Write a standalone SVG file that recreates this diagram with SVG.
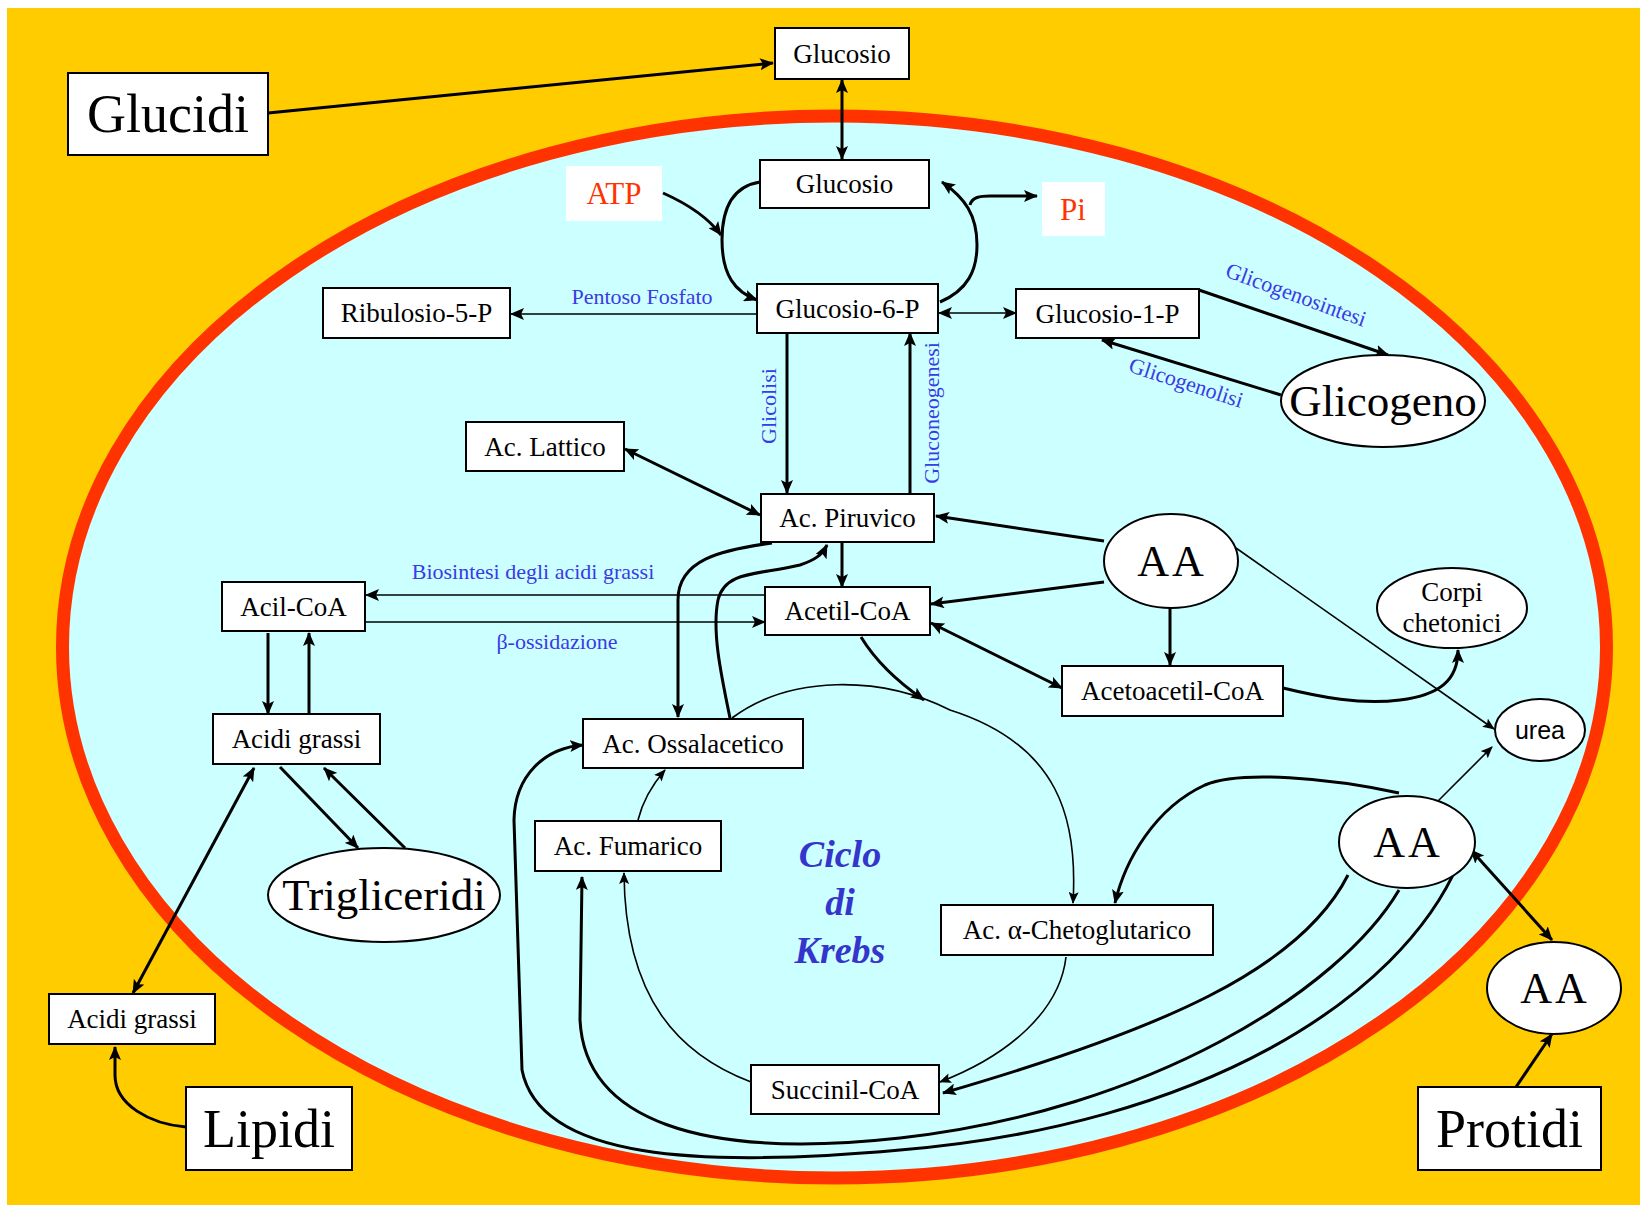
<svg xmlns="http://www.w3.org/2000/svg" width="1640" height="1205" viewBox="0 0 1640 1205">
  <style>
    .box { fill: #ffffff; stroke: #000000; stroke-width: 2; }
    .oval { fill: #ffffff; stroke: #000000; stroke-width: 2; }
    .t { font-family: "Liberation Serif", "Times New Roman", serif; font-size: 27px; fill: #000000; text-anchor: middle; }
    .big { font-size: 54px; }
    .mid { font-size: 45px; }
    .aa { font-size: 44px; letter-spacing: 3px; }
    .red { fill: #ff3300; font-size: 31px; }
    .lbl { font-family: "Liberation Serif", "Times New Roman", serif; font-size: 22px; fill: #3a3ae6; text-anchor: middle; }
    .krebs { font-family: "Liberation Serif", "Times New Roman", serif; font-size: 38px; font-weight: bold; font-style: italic; fill: #3535cc; text-anchor: middle; }
    .sans { font-family: "Liberation Sans", Arial, sans-serif; font-size: 25px; }
    .thick { fill: none; stroke: #000000; stroke-width: 3; }
    .thin { fill: none; stroke: #000000; stroke-width: 1.6; }
    .one { marker-end: url(#ah); }
    .two { marker-start: url(#ah); marker-end: url(#ah); }
    .ones { marker-end: url(#ahs); }
    .twos { marker-start: url(#ahs); marker-end: url(#ahs); }
  </style>
  <defs>
    <marker id="ah" viewBox="0 0 14 12" refX="13" refY="6" markerWidth="14" markerHeight="12" markerUnits="userSpaceOnUse" orient="auto-start-reverse">
      <path d="M0,0 L14,6 L0,12 L3,6 z" fill="#000000"/>
    </marker>
    <marker id="ahs" viewBox="0 0 12 10" refX="11" refY="5" markerWidth="12" markerHeight="10" markerUnits="userSpaceOnUse" orient="auto-start-reverse">
      <path d="M0,0 L12,5 L0,10 L2.5,5 z" fill="#000000"/>
    </marker>
  </defs>

  <!-- background and cell -->
  <rect x="0" y="0" width="1640" height="1205" fill="#ffffff"/>
  <rect x="7" y="8" width="1633" height="1197" fill="#ffcc00"/>
  <ellipse cx="834.5" cy="647" rx="772" ry="531" fill="#ccffff" stroke="#ff3300" stroke-width="13"/>

  <!-- connectors -->
  <g id="connectors">
    <path class="thick one" d="M268,113 L773,63"/>
    <path class="thick two" d="M842,80 L842,159"/>
    <path class="thick one" d="M663,193 C690,205 710,220 721,235"/>
    <path class="thick one" d="M760,182 C735,186 722,205 722,240 C722,275 735,292 757,300"/>
    <path class="thick one" d="M940,302 C968,290 977,270 977,245 C977,215 965,198 942,182"/>
    <path class="thick one" d="M970,205 C972,197 980,196 990,196 L1037,196"/>
    <path class="thin one" d="M757,314 L511,314"/>
    <path class="thin two" d="M939,313 L1016,313"/>
    <path class="thick one" d="M1199,290 L1388,355"/>
    <path class="thick one" d="M1281,395 L1102,340"/>
    <path class="thick one" d="M787,333 L787,493"/>
    <path class="thick one" d="M910,493 L910,333"/>
    <path class="thick two" d="M625,449 L760,515"/>
    <path class="thick one" d="M1104,541 L936,516"/>
    <path class="thick one" d="M1104,582 L931,604"/>
    <path class="thick one" d="M1170,608 L1170,665"/>
    <path class="thin ones" d="M1236,548 L1494,729"/>
    <path class="thin ones" d="M1434,805 L1492,747"/>
    <path class="thick two" d="M931,623 L1062,688"/>
    <path class="thick one" d="M1283,688 C1320,697 1360,705 1400,700 C1440,695 1458,680 1458,650"/>
    <path class="thick one" d="M842,542 L842,587"/>
    <path class="thin one" d="M765,595 L366,595"/>
    <path class="thin one" d="M365,622 L765,622"/>
    <path class="thick one" d="M268,633 L268,714"/>
    <path class="thick one" d="M309,714 L309,633"/>
    <path class="thick one" d="M280,767 L358,848"/>
    <path class="thick one" d="M405,848 L324,768"/>
    <path class="thick two" d="M254,768 L133,993"/>
    <path class="thick one" d="M186,1127 C150,1124 115,1105 115,1075 L115,1047"/>
    <path class="thick one" d="M772,543 C720,550 678,560 678,600 L678,717"/>
    <path class="thick one" d="M730,718 C720,670 712,630 718,600 C725,570 760,575 800,565 C815,560 822,555 827,545"/>
    <path class="thick one" d="M861,637 C875,660 895,680 924,700"/>
    <!-- Krebs cycle ring -->
    <path class="thin ones" d="M732,718 C790,675 880,675 950,710 C1060,745 1078,820 1073,903"/>
    <path class="thin ones" d="M1066,957 C1060,1010 1010,1055 940,1082"/>
    <path class="thin ones" d="M751,1082 C680,1055 625,1000 624,873"/>
    <path class="thin ones" d="M638,820 C643,800 652,785 665,770"/>
    <!-- amino acid routes -->
    <path class="thick one" d="M1399,793 C1330,778 1240,770 1205,785 C1155,808 1125,860 1115,903"/>
    <path class="thick one" d="M1348,875 C1300,970 1160,1030 943,1093"/>
    <path class="thick one" d="M1399,890 C1340,990 1150,1110 900,1138 C700,1160 585,1120 580,1020 L582,877"/>
    <path class="thick one" d="M1459,862 C1400,1000 1200,1125 900,1150 C700,1168 540,1160 522,1070 L514,820 C515,775 545,748 583,745"/>
    <path class="thick two" d="M1471,850 L1552,940"/>
    <path class="thick one" d="M1516,1087 L1552,1034"/>
  </g>

  <!-- pathway labels -->
  <g id="labels">
    <text class="lbl" x="642" y="304">Pentoso Fosfato</text>
    <text class="lbl" transform="translate(769,406) rotate(-90)" x="0" y="7">Glicolisi</text>
    <text class="lbl" transform="translate(932,413) rotate(-90)" x="0" y="7">Gluconeogenesi</text>
    <text class="lbl" transform="translate(1296,295) rotate(20)" x="0" y="7">Glicogenosintesi</text>
    <text class="lbl" transform="translate(1186,383) rotate(18)" x="0" y="7">Glicogenolisi</text>
    <text class="lbl" x="533" y="579">Biosintesi degli acidi grassi</text>
    <text class="lbl" x="557" y="649">β-ossidazione</text>
    <text class="krebs" x="840" y="867">Ciclo</text>
    <text class="krebs" x="840" y="915">di</text>
    <text class="krebs" x="840" y="963">Krebs</text>
  </g>

  <g id="glucidi"><rect class="box" x="68" y="73" width="200" height="82"/><text class="t big" x="168" y="132">Glucidi</text></g>
  <g id="glucosio-ext"><rect class="box" x="775" y="28" width="134" height="51"/><text class="t" x="842" y="63">Glucosio</text></g>
  <g id="glucosio"><rect class="box" x="760" y="160" width="169" height="48"/><text class="t" x="844.5" y="193">Glucosio</text></g>
  <g id="atp"><rect x="566" y="166" width="96" height="55" fill="#ffffff"/><text class="t red" x="614" y="204">ATP</text></g>
  <g id="pi"><rect x="1042" y="182" width="63" height="54" fill="#ffffff"/><text class="t red" x="1073" y="220">Pi</text></g>
  <g id="glucosio-6-p"><rect class="box" x="757" y="284" width="181" height="49"/><text class="t" x="847.5" y="318">Glucosio-6-P</text></g>
  <g id="ribulosio-5-p"><rect class="box" x="323" y="288" width="187" height="50"/><text class="t" x="416.5" y="322">Ribulosio-5-P</text></g>
  <g id="glucosio-1-p"><rect class="box" x="1016" y="289" width="183" height="49"/><text class="t" x="1107.5" y="323">Glucosio-1-P</text></g>
  <g id="glicogeno"><ellipse class="oval" cx="1383" cy="401" rx="102" ry="46"/><text class="t mid" x="1383" y="416">Glicogeno</text></g>
  <g id="ac-lattico"><rect class="box" x="466" y="422" width="158" height="49"/><text class="t" x="545" y="456">Ac. Lattico</text></g>
  <g id="ac-piruvico"><rect class="box" x="761" y="494" width="173" height="48"/><text class="t" x="847.5" y="527">Ac. Piruvico</text></g>
  <g id="acetil-coa"><rect class="box" x="765" y="587" width="165" height="48"/><text class="t" x="847.5" y="620">Acetil-CoA</text></g>
  <g id="acil-coa"><rect class="box" x="222" y="582" width="143" height="49"/><text class="t" x="293.5" y="616">Acil-CoA</text></g>
  <g id="acidi-grassi"><rect class="box" x="213" y="714" width="167" height="50"/><text class="t" x="296.5" y="748">Acidi grassi</text></g>
  <g id="trigliceridi"><ellipse class="oval" cx="384" cy="895" rx="116" ry="47"/><text class="t mid" x="384" y="910">Trigliceridi</text></g>
  <g id="acidi-grassi-ext"><rect class="box" x="49" y="994" width="166" height="50"/><text class="t" x="132" y="1028">Acidi grassi</text></g>
  <g id="lipidi"><rect class="box" x="186" y="1087" width="166" height="83"/><text class="t big" x="269" y="1147">Lipidi</text></g>
  <g id="ac-ossalacetico"><rect class="box" x="583" y="719" width="220" height="49"/><text class="t" x="693" y="753">Ac. Ossalacetico</text></g>
  <g id="ac-fumarico"><rect class="box" x="535" y="821" width="186" height="50"/><text class="t" x="628" y="855">Ac. Fumarico</text></g>
  <g id="succinil-coa"><rect class="box" x="751" y="1065" width="188" height="49"/><text class="t" x="845" y="1099">Succinil-CoA</text></g>
  <g id="ac-chetoglutarico"><rect class="box" x="941" y="905" width="272" height="50"/><text class="t" x="1077" y="939">Ac. α-Chetoglutarico</text></g>
  <g id="aa-1"><ellipse class="oval" cx="1171" cy="561" rx="67" ry="47"/><text class="t aa" x="1172" y="576">AA</text></g>
  <g id="corpi-chetonici"><ellipse class="oval" cx="1452" cy="608" rx="75" ry="40"/><text class="t" x="1452" y="601">Corpi</text><text class="t" x="1452" y="632">chetonici</text></g>
  <g id="acetoacetil-coa"><rect class="box" x="1062" y="666" width="221" height="50"/><text class="t" x="1172.5" y="700">Acetoacetil-CoA</text></g>
  <g id="urea"><ellipse class="oval" cx="1540" cy="730" rx="45" ry="31"/><text class="t sans" x="1540" y="739">urea</text></g>
  <g id="aa-2"><ellipse class="oval" cx="1407" cy="842" rx="68" ry="46"/><text class="t aa" x="1408" y="857">AA</text></g>
  <g id="aa-3"><ellipse class="oval" cx="1554" cy="988" rx="67" ry="46"/><text class="t aa" x="1555" y="1003">AA</text></g>
  <g id="protidi"><rect class="box" x="1418" y="1087" width="183" height="83"/><text class="t big" x="1509.5" y="1147">Protidi</text></g>
</svg>
